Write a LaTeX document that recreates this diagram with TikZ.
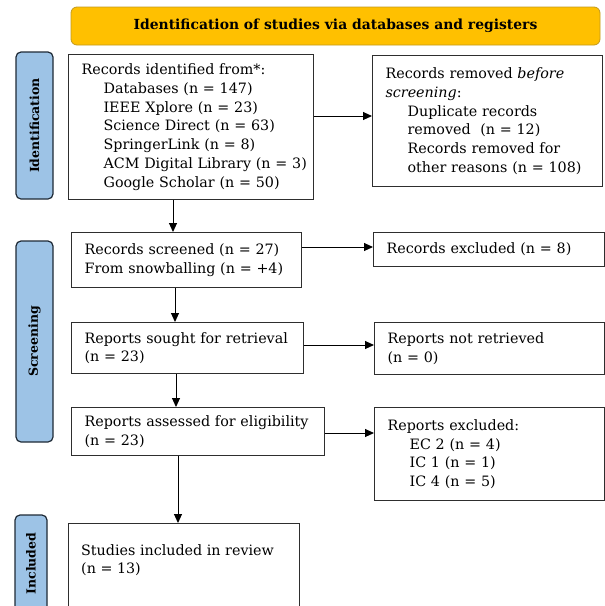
\documentclass[tikz,border=0pt]{standalone}
\usepackage{fontspec}
\setmainfont{DejaVu Serif}
\usetikzlibrary{arrows.meta,calc}
\definecolor{gold}{HTML}{FFC000}
\definecolor{goldline}{HTML}{C29A1E}
\definecolor{lblue}{HTML}{9DC3E6}
\definecolor{lborder}{HTML}{1F2A36}
\definecolor{boxline}{HTML}{2E2E2E}
\begin{document}
\begin{tikzpicture}[x=1pt,y=-1pt,
  box/.style={draw=boxline, line width=1.2pt, anchor=north west, align=left,
    inner xsep=13pt, inner ysep=0pt, font=\fontsize{14.3}{18.8}\selectfont},
  lbl/.style={draw=lborder, fill=lblue, line width=1.2pt, rounded corners=5pt,
    inner sep=0pt, rotate=90, font=\fontsize{12.5}{15}\selectfont\bfseries},
  arr/.style={draw=black, line width=1pt, -{Triangle[length=9pt,width=8pt]}},
]
\clip (0,0) rectangle (605,606);
\useasboundingbox (0,0) rectangle (605,606);

% banner
\node[draw=goldline, fill=gold, line width=0.8pt, rounded corners=6pt,
  minimum width=529pt, minimum height=38pt, inner sep=0pt,
  font=\fontsize{13.9}{16}\selectfont\bfseries] (banner) at (335.5,26)
  {Identification of studies via databases and registers};

% phase labels
\node[lbl, minimum width=147pt, minimum height=37pt] (identlbl) at (34.5,125.5) {Identification};
\node[lbl, minimum width=201pt, minimum height=37pt] (screenlbl) at (34.5,341.5) {Screening};
\node[lbl, minimum width=97pt, minimum height=32pt] (inclbl) at (31,563.5) {Included};

% boxes
\node[box, text width=219pt, minimum height=145pt] (records) at (68,54)
  {Records identified from*:\\
   \hspace*{22pt}\mbox{Databases (n = 147)}\\
   \hspace*{22pt}\mbox{IEEE Xplore (n = 23)}\\
   \hspace*{22pt}\mbox{Science Direct (n = 63)}\\
   \hspace*{22pt}\mbox{SpringerLink (n = 8)}\\
   \hspace*{22pt}\mbox{ACM Digital Library (n = 3)}\\
   \hspace*{22pt}\mbox{Google Scholar (n = 50)}};
\node[box, text width=204pt, minimum height=131pt] (removed) at (372,55)
  {Records removed \emph{before}\\
   \emph{screening}:\\
   \hspace*{22pt}\mbox{Duplicate records}\\
   \hspace*{22pt}\mbox{removed~ (n = 12)}\\
   \hspace*{22pt}\mbox{Records removed for}\\
   \hspace*{22pt}\mbox{other reasons (n = 108)}};
\node[box, text width=204pt, minimum height=55pt] (screened) at (71,232)
  {Records screened (n = 27)\\From snowballing (n = +4)};
\node[box, text width=205pt, minimum height=34pt] (excluded) at (373,232)
  {Records excluded (n = 8)};
\node[box, text width=206pt, minimum height=51pt] (sought) at (71,322)
  {Reports sought for retrieval\\(n = 23)};
\node[box, text width=204pt, minimum height=52pt] (notret) at (374,322)
  {Reports not retrieved\\(n = 0)};
\node[box, text width=227pt, minimum height=48pt] (assessed) at (71,407)
  {\mbox{Reports assessed for eligibility}\\(n = 23)};
\node[box, text width=204pt, minimum height=93pt] (repexcl) at (374,407)
  {Reports excluded:\\
   \hspace*{22pt}EC 2 (n = 4)\\
   \hspace*{22pt}IC 1 (n = 1)\\
   \hspace*{22pt}IC 4 (n = 5)};
\node[box, text width=205pt, minimum height=95pt] (studies) at (68,523) {};
\node[anchor=north west, align=left, inner sep=0pt,
  font=\fontsize{14.3}{18.8}\selectfont] (studiestxt) at ($(studies.north west)+(13,21)$)
  {Studies included in review\\(n = 13)};

% connector guides
\coordinate (y1) at (0,116);
\coordinate (y2) at (0,247);
\coordinate (y3) at (0,345);
\coordinate (y4) at (0,433);
\coordinate (x1) at (173,0);
\coordinate (x2) at (175,0);
\coordinate (x3) at (176,0);
\coordinate (x4) at (178,0);

% connectors
\draw[arr] (records.east |- y1) -- (removed.west |- y1);
\draw[arr] (records.south -| x1) -- (screened.north -| x1);
\draw[arr] (screened.east |- y2) -- (excluded.west |- y2);
\draw[arr] (screened.south -| x2) -- (sought.north -| x2);
\draw[arr] (sought.east |- y3) -- (notret.west |- y3);
\draw[arr] (sought.south -| x3) -- (assessed.north -| x3);
\draw[arr] (assessed.east |- y4) -- (repexcl.west |- y4);
\draw[arr] (assessed.south -| x4) -- (studies.north -| x4);
\end{tikzpicture}
\end{document}
